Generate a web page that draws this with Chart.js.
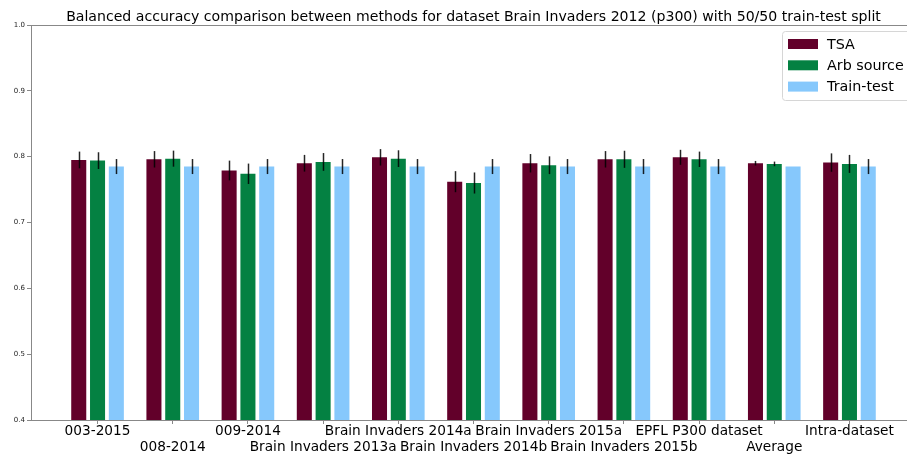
<!DOCTYPE html>
<html>
<head>
<meta charset="utf-8">
<script src="https://cdn.jsdelivr.net/npm/chart.js@4"></script>
<style>
  html, body { margin: 0; padding: 0; background: #fff; overflow: hidden; }
  #wrap { width: 920px; height: 458px; }
</style>
</head>
<body>
<div id="wrap"><canvas id="chart" width="920" height="458"></canvas></div>
<script>
// Datasets evaluated
const categories = [
  '003-2015', '008-2014', '009-2014', 'Brain Invaders 2013a', 'Brain Invaders 2014a',
  'Brain Invaders 2014b', 'Brain Invaders 2015a', 'Brain Invaders 2015b',
  'EPFL P300 dataset', 'Average', 'Intra-dataset'
];

// Mean balanced accuracy per method
const tsaMean   = [0.795, 0.796, 0.779, 0.790, 0.799, 0.762, 0.790, 0.796, 0.799, 0.790, 0.791];
const arbMean   = [0.794, 0.797, 0.774, 0.792, 0.797, 0.760, 0.787, 0.796, 0.796, 0.789, 0.789];
const trainMean = [0.785, 0.785, 0.785, 0.785, 0.785, 0.785, 0.785, 0.785, 0.785, 0.785, 0.785];

// Standard error of each mean (drawn as error bars)
const tsaErr   = [0.0127, 0.0125, 0.0150, 0.0127, 0.0125, 0.0160, 0.0140, 0.0125, 0.0114, 0.0035, 0.0140];
const arbErr   = [0.0127, 0.0122, 0.0155, 0.0135, 0.0127, 0.0160, 0.0135, 0.0130, 0.0117, 0.0035, 0.0137];
const trainErr = [0.0114, 0.0114, 0.0114, 0.0114, 0.0114, 0.0114, 0.0114, 0.0114, 0.0114, 0, 0.0114];

// Y axis ticks
const yTicks = [0.4, 0.5, 0.6, 0.7, 0.8, 0.9, 1.0];

const titleText = 'Balanced accuracy comparison between methods for dataset Brain Invaders 2012 (p300) with 50/50 train-test split';

const toPoints = arr => arr.map((v, i) => ({ x: i, y: v }));

const series = [
  { label: 'TSA',        mean: tsaMean,   err: tsaErr,   color: '#62002a' },
  { label: 'Arb source', mean: arbMean,   err: arbErr,   color: '#048142' },
  { label: 'Train-test', mean: trainMean, err: trainErr, color: '#86c8fc' }
];

// Error bars on top of each bar
const errorBars = {
  id: 'errorBars',
  afterDatasetsDraw(chart) {
    const ctx = chart.ctx;
    const yScale = chart.scales.y;
    ctx.save();
    ctx.strokeStyle = 'rgba(0,0,0,0.85)';
    ctx.lineWidth = 1.5;
    chart.data.datasets.forEach((ds, di) => {
      const meta = chart.getDatasetMeta(di);
      meta.data.forEach((bar, i) => {
        const e = ds.errors[i];
        if (!e) return;
        const v = ds.data[i].y;
        const x = Math.round(bar.x) + 0.5;
        ctx.beginPath();
        ctx.moveTo(x, yScale.getPixelForValue(v - e));
        ctx.lineTo(x, yScale.getPixelForValue(v + e));
        ctx.stroke();
      });
    });
    ctx.restore();
  }
};

// Frame around the plotting area and the title centred over it
const frame = {
  id: 'frame',
  afterDraw(chart) {
    const { left, top, right, bottom } = chart.chartArea;
    const ctx = chart.ctx;
    ctx.save();
    ctx.strokeStyle = '#888';
    ctx.lineWidth = 1;
    ctx.strokeRect(Math.round(left) + 0.5, Math.round(top) + 0.5,
                   Math.round(right - left), Math.round(bottom - top));
    ctx.fillStyle = '#000';
    ctx.font = '14.1px "DejaVu Sans"';
    ctx.textAlign = 'center';
    ctx.textBaseline = 'alphabetic';
    ctx.fillText(titleText, (left + right) / 2, 21);
    ctx.restore();
  }
};

// Legend box in the upper-right corner
const cornerLegend = {
  id: 'cornerLegend',
  afterDraw(chart) {
    const ctx = chart.ctx;
    const x0 = 782, y0 = 31, w = 140, h = 69;
    ctx.save();
    ctx.fillStyle = 'rgba(255,255,255,0.85)';
    ctx.strokeStyle = '#d6d6d6';
    ctx.lineWidth = 1;
    ctx.beginPath();
    ctx.roundRect(x0 + 0.5, y0 + 0.5, w, h, 3);
    ctx.fill();
    ctx.stroke();
    ctx.font = '14.3px "DejaVu Sans"';
    ctx.textBaseline = 'middle';
    chart.data.datasets.forEach((ds, i) => {
      const cy = y0 + 13 + i * 21.3;
      ctx.fillStyle = ds.backgroundColor;
      ctx.fillRect(788, cy - 5, 30, 10);
      ctx.fillStyle = '#000';
      ctx.fillText(ds.label, 827, cy + 1);
    });
    ctx.restore();
  }
};

new Chart(document.getElementById('chart'), {
  type: 'bar',
  data: {
    datasets: series.map(s => ({
      label: s.label,
      data: toPoints(s.mean),
      errors: s.err,
      backgroundColor: s.color,
      borderWidth: 0,
      categoryPercentage: 0.75,
      barPercentage: 0.8
    }))
  },
  options: {
    responsive: false,
    animation: false,
    layout: { padding: { left: 0, right: 4, top: 25, bottom: 0 } },
    plugins: {
      legend: { display: false },
      tooltip: { enabled: false },
      title: { display: false }
    },
    scales: {
      x: {
        type: 'linear',
        offset: false,
        min: -0.885,
        max: 10.885,
        afterBuildTicks: s => { s.ticks = categories.map((_, i) => ({ value: i })); },
        afterFit: s => { s.height = 38; },
        grid: { drawOnChartArea: false, drawTicks: true, tickLength: 4, color: '#888', offset: false },
        border: { display: false },
        ticks: {
          autoSkip: false,
          maxRotation: 0,
          minRotation: 0,
          padding: 0,
          color: '#000',
          font: { family: '"DejaVu Sans"', size: 13.7, lineHeight: 1.12 },
          callback: v => {
            const i = Math.round(v);
            const name = categories[i];
            return i % 2 === 1 ? ['', name] : name;
          }
        }
      },
      y: {
        min: 0.4,
        max: 1.0,
        afterBuildTicks: s => { s.ticks = yTicks.map(v => ({ value: v })); },
        afterFit: s => { s.width = 31; },
        grid: { drawOnChartArea: false, drawTicks: true, tickLength: 4, color: '#888' },
        border: { display: false },
        ticks: {
          padding: 2,
          color: '#222',
          font: { family: '"DejaVu Sans"', size: 7 },
          callback: v => v.toFixed(1)
        }
      }
    }
  },
  plugins: [errorBars, frame, cornerLegend]
});
</script>
</body>
</html>
